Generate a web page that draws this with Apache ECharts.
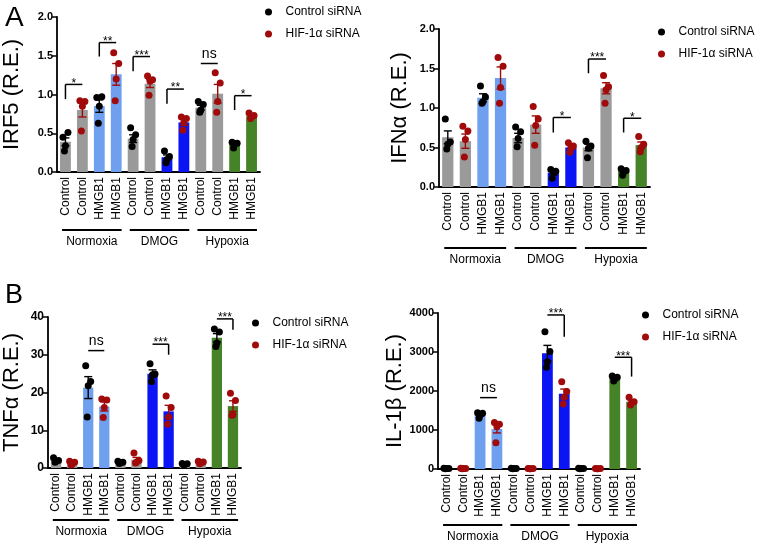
<!DOCTYPE html>
<html>
<head>
<meta charset="utf-8">
<script src="https://cdn.jsdelivr.net/npm/echarts@6/dist/echarts.min.js"></script>
<style>
  html, body { margin: 0; padding: 0; background: #fff; }
  #chart { width: 764px; height: 545px; }
</style>
</head>
<body>
<div id="chart"></div>
<script>
// categories / groups shared by all four panels
const categories = ['Control', 'Control', 'HMGB1', 'HMGB1', 'Control', 'Control', 'HMGB1', 'HMGB1', 'Control', 'Control', 'HMGB1', 'HMGB1'];
const groups = ['Normoxia', 'DMOG', 'Hypoxia'];
const legendNames = ['Control siRNA', 'HIF-1α siRNA'];

// IRF5
const irf5Ticks = [0, 0.5, 1.0, 1.5, 2.0];
const irf5Mean = [0.39, 0.80, 0.85, 1.26, 0.43, 1.14, 0.19, 0.64, 0.83, 1.01, 0.36, 0.72];
const irf5Sem = [0.05, 0.09, 0.08, 0.14, 0.05, 0.05, 0.03, 0.04, 0.03, 0.12, 0.02, 0.02];
const irf5Points = [
  [0.45, 0.51, 0.34, 0.27], [0.92, 0.91, 0.85, 0.53], [0.96, 0.97, 0.85, 0.63], [1.54, 1.40, 1.20, 0.92],
  [0.57, 0.48, 0.42, 0.33], [1.24, 1.19, 1.17, 0.99], [0.27, 0.20, 0.16, 0.12], [0.71, 0.69, 0.64, 0.54],
  [0.91, 0.87, 0.80, 0.77], [1.28, 1.15, 0.91, 0.77], [0.385, 0.37, 0.365, 0.31], [0.76, 0.73, 0.71, 0.69]
];
// [from, to, line value, leg end value, label]
const irf5Sig = [
  [0, 1, 1.13, 0.94, '*'], [2, 3, 1.67, 1.49, '**'], [4, 5, 1.49, 1.30, '***'],
  [6, 7, 1.07, 0.88, '**'], [8, 9, 1.40, null, 'ns'], [10, 11, 0.985, 0.80, '*']
];

// IFN alpha
const ifnTicks = [0, 0.5, 1.0, 1.5, 2.0];
const ifnMean = [0.63, 0.58, 1.13, 1.38, 0.62, 0.79, 0.18, 0.50, 0.50, 1.25, 0.20, 0.53];
const ifnSem = [0.08, 0.09, 0.05, 0.14, 0.06, 0.11, 0.03, 0.03, 0.04, 0.07, 0.02, 0.04];
const ifnPoints = [
  [0.86, 0.57, 0.54, 0.48], [0.77, 0.71, 0.60, 0.38], [1.28, 1.14, 1.08, 1.06], [1.64, 1.53, 1.26, 1.06],
  [0.76, 0.70, 0.615, 0.51], [1.02, 0.86, 0.78, 0.53], [0.22, 0.20, 0.19, 0.11], [0.56, 0.52, 0.50, 0.44],
  [0.58, 0.52, 0.49, 0.37], [1.41, 1.27, 1.23, 1.06], [0.23, 0.21, 0.19, 0.15], [0.64, 0.54, 0.50, 0.445]
];
const ifnSig = [[6, 7, 0.88, 0.69, '*'], [8, 9, 1.62, 1.44, '***'], [10, 11, 0.87, 0.69, '*']];

// TNF alpha
const tnfTicks = [0, 10, 20, 30, 40];
const tnfMean = [2.0, 1.3, 21.3, 16.3, 1.5, 2.2, 25.0, 15.0, 1.0, 1.4, 34.5, 16.4];
const tnfSem = [0.3, 0.2, 2.9, 1.2, 0.15, 0.6, 1.0, 1.6, 0.1, 0.15, 1.1, 1.4];
const tnfPoints = [
  [2.7, 2.0, 1.8, 1.5], [1.8, 1.5, 1.0, 0.8], [27.1, 22.9, 21.8, 13.5], [18.3, 18.0, 16.0, 13.4],
  [1.8, 1.5, 1.4, 1.2], [4.0, 2.0, 1.5, 1.3], [27.6, 24.9, 24.7, 22.9], [19.1, 16.0, 13.5, 11.6],
  [1.2, 1.1, 0.9, 0.8], [1.8, 1.6, 1.3, 1.1], [36.8, 36.0, 33.1, 32.2], [19.8, 17.9, 14.1, 14.0]
];
const tnfSig = [[2, 3, 31.1, null, 'ns'], [6, 7, 32.8, 30.0, '***'], [10, 11, 39.5, 36.6, '***']];

// IL-1 beta
const il1Ticks = [0, 1000, 2000, 3000, 4000];
const il1Mean = [12, 12, 1390, 1025, 12, 10, 2970, 1930, 12, 10, 2325, 1725];
const il1Sem = [3, 3, 35, 100, 3, 3, 200, 120, 3, 3, 30, 45];
const il1Points = [
  [20, 15, 10, 5], [18, 14, 10, 6], [1445, 1430, 1385, 1300], [1190, 1150, 1085, 675],
  [20, 15, 10, 5], [16, 12, 8, 5], [3520, 3010, 2750, 2610], [2240, 1985, 1840, 1665],
  [20, 15, 10, 5], [16, 12, 8, 5], [2385, 2350, 2300, 2255], [1840, 1725, 1700, 1640]
];
const il1Sig = [[2, 3, 1830, null, 'ns'], [6, 7, 3950, 3390, '***'], [10, 11, 2865, 2370, '***']];

// styles
const FONT = '"Liberation Sans", Arial, sans-serif';
const GRAY = '#9a9a9a', LBLUE = '#6fa0f0', BLUE = '#0a14f5', GREEN = '#468228';
const BAR_COLORS = [GRAY, GRAY, LBLUE, LBLUE, GRAY, GRAY, BLUE, BLUE, GRAY, GRAY, GREEN, GREEN];
const DOT_COLORS = ['#000000', '#a00a0a'];
const JITTER = [-2.5, 2.5, 0, -1];

const panels = [
  { title: 'IRF5 (R.E.)', mean: irf5Mean, sem: irf5Sem, points: irf5Points, sig: irf5Sig, ticks: irf5Ticks, digits: 1,
    grid: { left: 54, top: 17, width: 206, height: 155 }, nameGap: 34, tickSize: 11, groupDrop: 58, legSide: 'left',
    legend: { left: 260, top: 0 } },
  { title: 'IFNα (R.E.)', mean: ifnMean, sem: ifnSem, points: ifnPoints, sig: ifnSig, ticks: ifnTicks, digits: 1,
    grid: { left: 439, top: 29, width: 211, height: 158 }, nameGap: 28, tickSize: 11, groupDrop: 61, legSide: 'left',
    legend: { left: 653, top: 20 } },
  { title: 'TNFα (R.E.)', mean: tnfMean, sem: tnfSem, points: tnfPoints, sig: tnfSig, ticks: tnfTicks, digits: 0,
    grid: { left: 44, top: 317, width: 197, height: 151 }, nameGap: 25, tickSize: 12, groupDrop: 52, legSide: 'right',
    legend: { left: 247, top: 311 } },
  { title: 'IL-1β (R.E.)', mean: il1Mean, sem: il1Sem, points: il1Points, sig: il1Sig, ticks: il1Ticks, digits: 0,
    grid: { left: 438, top: 313, width: 202, height: 156 }, nameGap: 26, tickSize: 11, groupDrop: 56, legSide: 'right',
    legend: { left: 637, top: 303 } }
];

const grids = [], xAxes = [], yAxes = [], series = [], legends = [];

panels.forEach(function (p, k) {
  grids.push(p.grid);
  xAxes.push({
    gridIndex: k, type: 'category', data: categories,
    axisLine: { lineStyle: { color: '#000', width: 1.8 } },
    axisTick: { alignWithLabel: true, length: 5, lineStyle: { color: '#000', width: 1.5 } },
    axisLabel: { rotate: 90, interval: 0, fontSize: 12, color: '#000', fontFamily: FONT, margin: 5 }
  });
  yAxes.push({
    gridIndex: k, type: 'value',
    min: p.ticks[0], max: p.ticks[p.ticks.length - 1], interval: p.ticks[1] - p.ticks[0],
    name: p.title, nameLocation: 'middle', nameGap: p.nameGap,
    nameTextStyle: { fontSize: 22, color: '#000', fontFamily: FONT },
    axisLine: { show: true, lineStyle: { color: '#000', width: 1.8 } },
    axisTick: { show: true, length: 5, lineStyle: { color: '#000', width: 1.5 } },
    axisLabel: { fontSize: p.tickSize, fontWeight: 'bold', color: '#000', fontFamily: FONT, margin: 4,
      formatter: function (v) { return v.toFixed(p.digits); } },
    splitLine: { show: false }
  });

  // bars
  series.push({
    type: 'bar', xAxisIndex: k, yAxisIndex: k, barWidth: '64%', z: 2, silent: true,
    data: p.mean.map(function (v, i) { return { value: v, itemStyle: { color: BAR_COLORS[i] } }; })
  });

  // error bars (mean +/- sem)
  series.push({
    type: 'custom', xAxisIndex: k, yAxisIndex: k, z: 3, silent: true,
    data: p.mean.map(function (m, i) { return [i, m, p.sem[i]]; }),
    renderItem: function (params, api) {
      const i = api.value(0), m = api.value(1), s = api.value(2);
      const top = api.coord([i, m + s]), bot = api.coord([i, m - s]);
      const x = top[0], c = DOT_COLORS[i % 2];
      const st = { stroke: c, lineWidth: 1.4 };
      return { type: 'group', children: [
        { type: 'line', shape: { x1: x, y1: top[1], x2: x, y2: bot[1] }, style: st },
        { type: 'line', shape: { x1: x - 4, y1: top[1], x2: x + 4, y2: top[1] }, style: st },
        { type: 'line', shape: { x1: x - 4, y1: bot[1], x2: x + 4, y2: bot[1] }, style: st }
      ] };
    }
  });

  // individual points, one series per siRNA
  [0, 1].forEach(function (c) {
    const data = [];
    p.points.forEach(function (pts, i) {
      if (i % 2 === c) pts.forEach(function (v, j) { data.push([i, v, j]); });
    });
    series.push({
      type: 'custom', name: legendNames[c], xAxisIndex: k, yAxisIndex: k, z: 4, silent: true,
      itemStyle: { color: DOT_COLORS[c] },
      data: data,
      renderItem: function (params, api) {
        const pt = api.coord([api.value(0), api.value(1)]);
        return { type: 'circle', shape: { cx: pt[0] + JITTER[api.value(2)], cy: pt[1], r: 3.5 },
          style: { fill: DOT_COLORS[c] } };
      }
    });
  });

  // significance brackets
  series.push({
    type: 'custom', xAxisIndex: k, yAxisIndex: k, z: 5, silent: true, clip: false,
    data: p.sig.map(function (s) { return [s[0], s[2]]; }),
    renderItem: function (params, api) {
      const s = p.sig[params.dataIndex];
      const a = api.coord([s[0], s[2]]), b = api.coord([s[1], s[2]]);
      const st = { stroke: '#000', lineWidth: 1.5 };
      const kids = [{ type: 'line', shape: { x1: a[0], y1: a[1], x2: b[0], y2: b[1] }, style: st }];
      if (s[3] !== null) {
        const lx = p.legSide === 'left' ? a[0] : b[0];
        const ly = api.coord([s[0], s[3]])[1];
        kids.push({ type: 'line', shape: { x1: lx, y1: a[1], x2: lx, y2: ly }, style: st });
      }
      const isNs = s[4] === 'ns';
      kids.push({ type: 'text', x: (a[0] + b[0]) / 2, y: isNs ? a[1] - 2 : a[1] - 1,
        style: { text: s[4], fill: '#000', fontFamily: FONT, fontSize: isNs ? 14 : 12,
          align: 'center', verticalAlign: isNs ? 'bottom' : 'middle' } });
      return { type: 'group', children: kids };
    }
  });

  // group lines + labels below the axis
  series.push({
    type: 'custom', xAxisIndex: k, yAxisIndex: k, z: 5, silent: true, clip: false,
    data: groups.map(function (g, i) { return [i * 4, 0]; }),
    renderItem: function (params, api) {
      const i = params.dataIndex;
      const band = api.size([1, 0])[0];
      const s = api.coord([i * 4, 0]), e = api.coord([i * 4 + 3, 0]);
      const y = s[1] + p.groupDrop;
      const x0 = s[0] - 0.2 * band, x1 = e[0] + 0.32 * band;
      return { type: 'group', children: [
        { type: 'line', shape: { x1: x0, y1: y, x2: x1, y2: y }, style: { stroke: '#000', lineWidth: 2.2 } },
        { type: 'text', x: (x0 + x1) / 2, y: y + 11.5,
          style: { text: groups[i], fill: '#000', fontFamily: FONT, fontSize: 12, align: 'center', verticalAlign: 'middle' } }
      ] };
    }
  });

  legends.push({
    left: p.legend.left, top: p.legend.top, orient: 'vertical', selectedMode: false,
    icon: 'circle', itemWidth: 24, itemHeight: 7, itemGap: 8,
    textStyle: { fontSize: 12, color: '#000', fontFamily: FONT, lineHeight: 14 },
    data: legendNames
  });
});

const chart = echarts.init(document.getElementById('chart'));
chart.setOption({
  animation: false,
  backgroundColor: '#fff',
  title: [
    { text: 'A', left: 0, top: -1, textStyle: { fontSize: 28, fontWeight: 'normal', color: '#000', fontFamily: FONT } },
    { text: 'B', left: 0, top: 277, textStyle: { fontSize: 27, fontWeight: 'normal', color: '#000', fontFamily: FONT } }
  ],
  legend: legends,
  grid: grids,
  xAxis: xAxes,
  yAxis: yAxes,
  series: series
});
</script>
</body>
</html>
